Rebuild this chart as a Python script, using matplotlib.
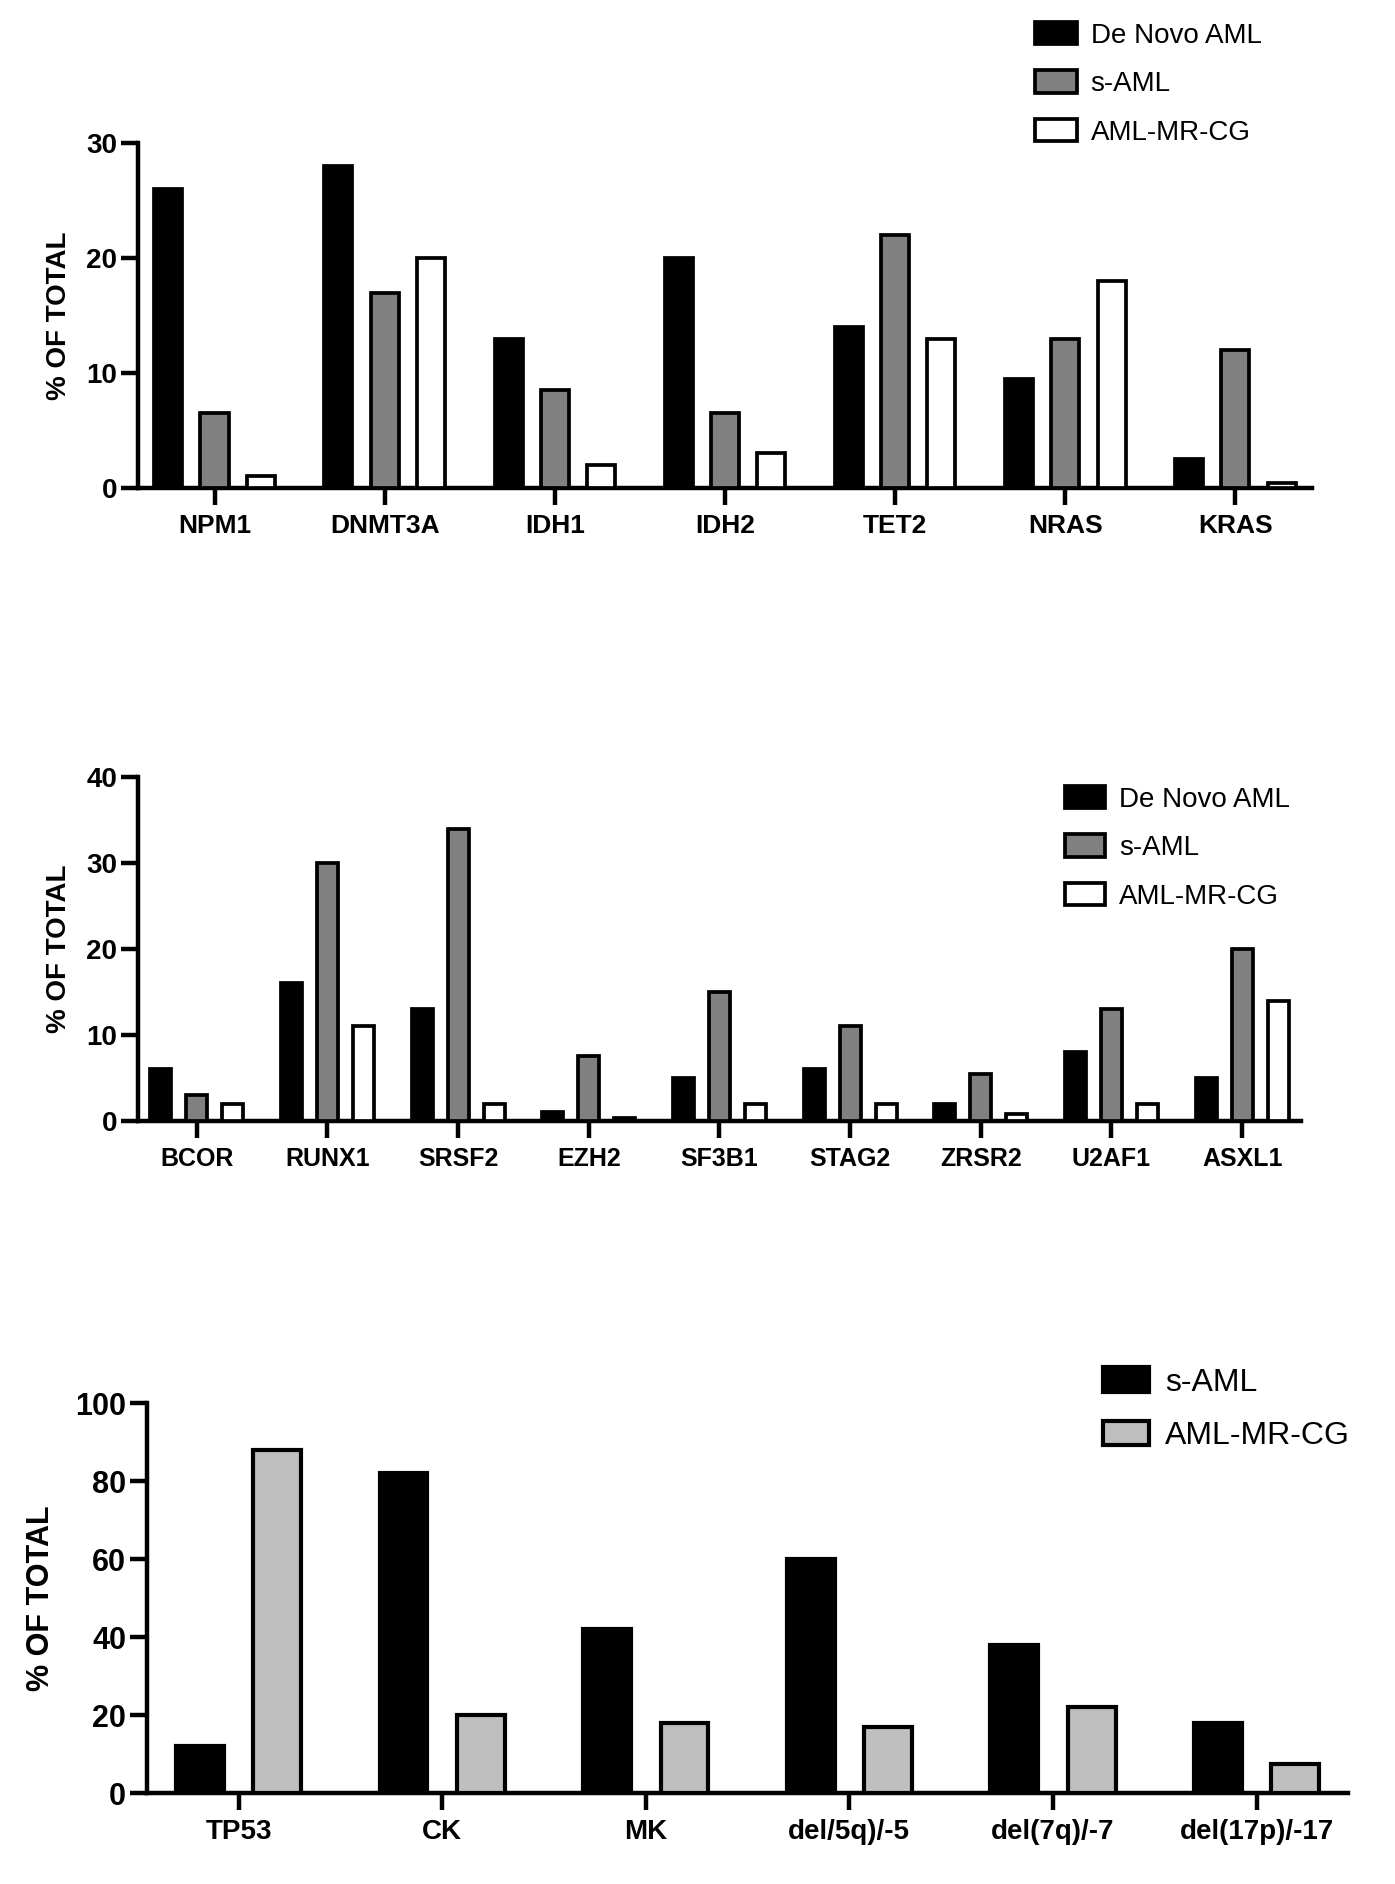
import numpy as np
import matplotlib
matplotlib.use("Agg")
import matplotlib.pyplot as plt
from matplotlib.patches import Patch

plt.rcParams['font.family'] = ['Liberation Sans', 'DejaVu Sans']

# panel 1 - common mutations
genes_top = ['NPM1', 'DNMT3A', 'IDH1', 'IDH2', 'TET2', 'NRAS', 'KRAS']
denovo_top = [26, 28, 13, 20, 14, 9.5, 2.5]
saml_top = [6.5, 17, 8.5, 6.5, 22, 13, 12]
mrcg_top = [1, 20, 2, 3, 13, 18, 0.4]

# panel 2 - MDS-related mutations
genes_mid = ['BCOR', 'RUNX1', 'SRSF2', 'EZH2', 'SF3B1', 'STAG2', 'ZRSR2', 'U2AF1', 'ASXL1']
denovo_mid = [6, 16, 13, 1, 5, 6, 2, 8, 5]
saml_mid = [3, 30, 34, 7.5, 15, 11, 5.5, 13, 20]
mrcg_mid = [2, 11, 2, 0.3, 2, 2, 0.8, 2, 14]

# panel 3 - cytogenetics / TP53
cats_bot = ['TP53', 'CK', 'MK', 'del/5q)/-5', 'del(7q)/-7', 'del(17p)/-17']
saml_bot = [12, 82, 42, 60, 38, 18]
mrcg_bot = [88, 20, 18, 17, 22, 7.5]

LW = 3.2


def style_axis(ax, cats, ymax, yticks, fs_tick, fs_y, fs_lab, labelpad):
    n = len(cats)
    ax.set_xlim(-0.45, n - 0.55)
    ax.set_ylim(0, ymax)
    ax.set_yticks(yticks)
    ax.set_xticks(range(n))
    ax.set_xticklabels(cats, fontweight='bold', fontsize=fs_tick)
    for lab in ax.get_yticklabels():
        lab.set_fontweight('bold')
        lab.set_fontsize(fs_y)
    ax.spines['top'].set_visible(False)
    ax.spines['right'].set_visible(False)
    ax.spines['left'].set_linewidth(LW)
    ax.spines['bottom'].set_linewidth(LW)
    ax.tick_params(axis='x', length=12, width=LW, pad=7)
    ax.tick_params(axis='y', length=12, width=LW, pad=3)
    ax.set_ylabel('% OF TOTAL', fontweight='bold', fontsize=fs_lab, labelpad=labelpad)


fig = plt.figure(figsize=(13.95, 18.84), dpi=100)

# ---- panel 1
ax1 = fig.add_axes([0.0989, 0.741, 0.8416, 0.183])
x = np.arange(len(genes_top))
w = 0.165
ax1.bar(x - 0.272, denovo_top, w, color='black', edgecolor='black', linewidth=2.7, zorder=3)
ax1.bar(x, saml_top, w, color='#808080', edgecolor='black', linewidth=2.7, zorder=3)
ax1.bar(x + 0.272, mrcg_top, w, color='white', edgecolor='black', linewidth=2.7, zorder=3)
style_axis(ax1, genes_top, 30, [0, 10, 20, 30], 19, 20, 20, 10)
h1 = [Patch(facecolor='black', edgecolor='black', linewidth=2.7),
      Patch(facecolor='#808080', edgecolor='black', linewidth=2.7),
      Patch(facecolor='white', edgecolor='black', linewidth=2.7)]
fig.legend(h1, ['De Novo AML', 's-AML', 'AML-MR-CG'], loc='upper left',
           bbox_to_anchor=(1035 / 1395, 1 - 22 / 1884), frameon=False, fontsize=20,
           handlelength=1.5, handleheight=0.86, handletextpad=0.5, labelspacing=0.78,
           borderpad=0, borderaxespad=0)

# ---- panel 2
ax2 = fig.add_axes([0.0989, 0.405, 0.8337, 0.1826])
x = np.arange(len(genes_mid))
w = 0.16
ax2.bar(x - 0.275, denovo_mid, w, color='black', edgecolor='black', linewidth=2.7, zorder=3)
ax2.bar(x, saml_mid, w, color='#808080', edgecolor='black', linewidth=2.7, zorder=3)
ax2.bar(x + 0.275, mrcg_mid, w, color='white', edgecolor='black', linewidth=2.7, zorder=3)
style_axis(ax2, genes_mid, 40, [0, 10, 20, 30, 40], 18, 20, 20, 10)
h2 = [Patch(facecolor='black', edgecolor='black', linewidth=2.7),
      Patch(facecolor='#808080', edgecolor='black', linewidth=2.7),
      Patch(facecolor='white', edgecolor='black', linewidth=2.7)]
fig.legend(h2, ['De Novo AML', 's-AML', 'AML-MR-CG'], loc='upper left',
           bbox_to_anchor=(1065 / 1395, 1 - 786 / 1884), frameon=False, fontsize=20,
           handlelength=1.45, handleheight=0.86, handletextpad=0.5, labelspacing=0.78,
           borderpad=0, borderaxespad=0)

# ---- panel 3
ax3 = fig.add_axes([0.1054, 0.0483, 0.861, 0.207])
x = np.arange(len(cats_bot))
w = 0.235
ax3.bar(x - 0.19, saml_bot, w, color='black', edgecolor='black', linewidth=3, zorder=3)
ax3.bar(x + 0.19, mrcg_bot, w, color='#bfbfbf', edgecolor='black', linewidth=3, zorder=3)
style_axis(ax3, cats_bot, 100, [0, 20, 40, 60, 80, 100], 20, 22, 22, 14)
h3 = [Patch(facecolor='black', edgecolor='black', linewidth=3),
      Patch(facecolor='#bfbfbf', edgecolor='black', linewidth=3)]
fig.legend(h3, ['s-AML', 'AML-MR-CG'], loc='upper left',
           bbox_to_anchor=(1103 / 1395, 1 - 1367 / 1884), frameon=False, fontsize=23,
           handlelength=1.45, handleheight=0.82, handletextpad=0.5, labelspacing=0.72,
           borderpad=0, borderaxespad=0)

fig.savefig('out.png', dpi=100, facecolor='white')
